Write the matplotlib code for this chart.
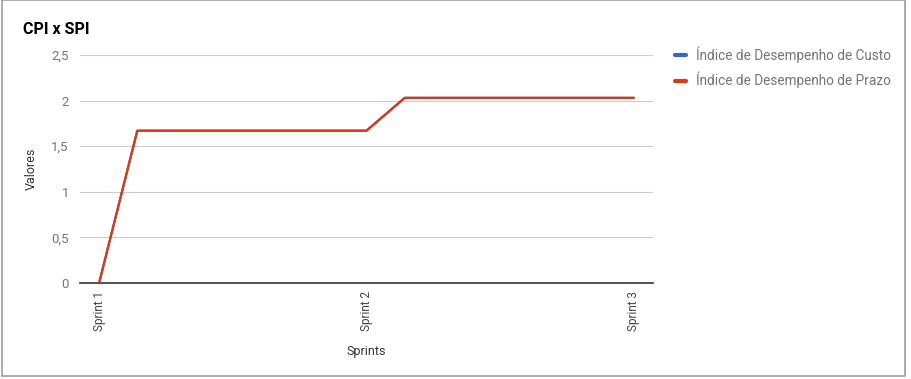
import matplotlib
matplotlib.use('Agg')
import matplotlib.pyplot as plt
from matplotlib.patches import Rectangle

plt.rcParams['font.family'] = ['Roboto', 'DejaVu Sans']

# dados
pontos = list(range(15))
rotulos_x = ['Sprint 1', '', '', '', '', '', '', 'Sprint 2', '', '', '', '', '', '', 'Sprint 3']
cpi = [0, 1.67, 1.67, 1.67, 1.67, 1.67, 1.67, 1.67, 2.03, 2.03, 2.03, 2.03, 2.03, 2.03, 2.03]
spi = [0, 1.67, 1.67, 1.67, 1.67, 1.67, 1.67, 1.67, 2.03, 2.03, 2.03, 2.03, 2.03, 2.03, 2.03]
yticks = [0, 0.5, 1, 1.5, 2, 2.5]
yticklabels = ['0', '0,5', '1', '1,5', '2', '2,5']

W, H = 911, 379
fig = plt.figure(figsize=(W / 100, H / 100), dpi=100)
ax = fig.add_axes([80 / W, 1 - 283 / H, 573 / W, 228 / H])

ax.plot(pontos, cpi, color='#3366cc', lw=1.6, label='Índice de Desempenho de Custo', solid_capstyle='round')
ax.plot(pontos, spi, color='#dc3912', lw=1.6, label='Índice de Desempenho de Prazo', solid_capstyle='round')

ax.set_xlim(-0.5, 14.5)
ax.set_ylim(0, 2.5)
ax.set_yticks(yticks)
ax.set_yticklabels(yticklabels, color='#757575', fontsize=9.5)
ax.set_xticks(pontos)
ax.set_xticklabels(rotulos_x, rotation=90, color='#444444', fontsize=8.5)
ax.tick_params(length=0, pad=8)
ax.tick_params(axis='x', pad=6)
ax.grid(axis='y', color='#cccccc', lw=0.8)
ax.set_axisbelow(True)
for s in ['top', 'right', 'left']:
    ax.spines[s].set_visible(False)
ax.spines['bottom'].set_color('#333333')
ax.spines['bottom'].set_linewidth(1.2)
ax.spines['bottom'].set_zorder(1)

ax.set_ylabel('Valores', color='#333333', fontsize=9, labelpad=10)
ax.set_xlabel('Sprints', color='#333333', fontsize=9, labelpad=10)

fig.text(23 / W, 1 - 29 / H, 'CPI x SPI', fontsize=11.5, fontweight='bold', color='#000000', va='center')

leg = ax.legend(loc='upper left', bbox_to_anchor=(670 / W, 1 - 41 / H), bbox_transform=fig.transFigure,
                frameon=False, fontsize=9.8, handlelength=0.8, handletextpad=0.7, labelspacing=0.65,
                borderaxespad=0)
for t in leg.get_texts():
    t.set_color('#757575')
for l in leg.get_lines():
    l.set_linewidth(3)
    l.set_solid_capstyle('round')

# moldura da planilha
fig.patches.append(Rectangle((2 / W, 3 / H), 903 / W, 376 / H, transform=fig.transFigure,
                             fill=False, edgecolor='#9e9e9e', lw=1.2))

fig.savefig('out.png', dpi=100)
